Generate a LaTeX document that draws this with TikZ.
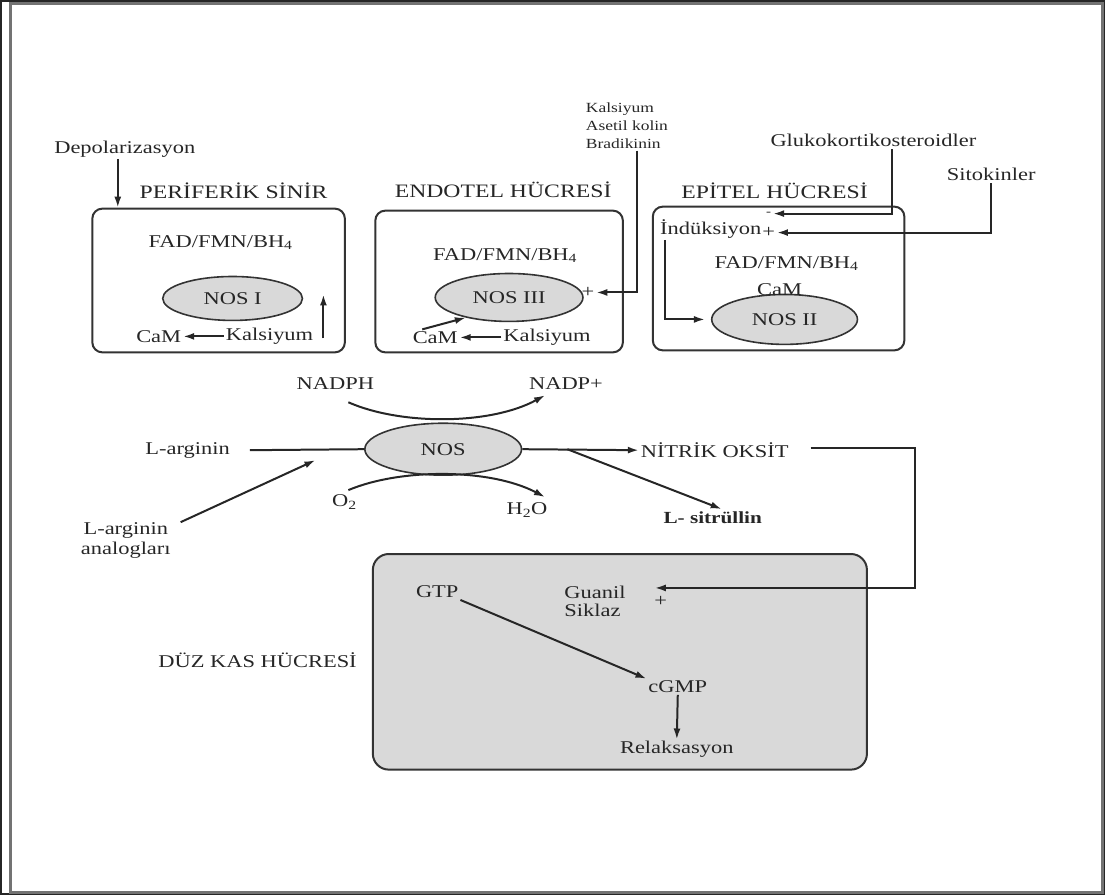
\documentclass[tikz,border=0pt]{standalone}
\usepackage{fontspec}
\setmainfont{Liberation Serif}[FakeStretch=1.25]
\usetikzlibrary{positioning}
\usetikzlibrary{shapes.geometric}
\usetikzlibrary{arrows.meta}

\begin{document}
\begin{tikzpicture}[x=1pt,y=-1pt,
                          cellbox/.style={rectangle, draw=black!80, rounded corners=10pt, line width=2pt},
                          enzymenode/.style={ellipse, draw=black!80, fill=black!15, line width=1.6pt, minimum width=146pt, minimum height=48pt, inner sep=0pt, text=black!85, font=\fontsize{18}{20}\selectfont},
                          textnode/.style={inner sep=1pt, text=black!85, font=\fontsize{18}{20}\selectfont},
                          titlenode/.style={inner sep=1pt, text=black!85, font=\fontsize{19}{21}\selectfont},
                          smallnode/.style={inner sep=1pt, text=black!85, align=left, font=\fontsize{14}{18}\selectfont},
                          every path/.style={line width=2pt, draw=black!85},
                          >={Latex[length=11pt,width=7pt]},
                      ]
                      \useasboundingbox (0,0) rectangle (1105,895);
                      \draw[line width=3pt, draw=black!55] (10,3) rectangle (1103,893);

                      %Nodes
                      \node[cellbox, minimum width=253pt, minimum height=144pt]   (periferik)  at (218,280)  {};
                      \node[titlenode]    (t_periferik)  at (233,190)   {PERİFERİK SİNİR};
                      \node[textnode]     (depol)        at (124,148)   {Depolarizasyon};
                      \node[textnode]     (fad1)         at (220,242)   {FAD/FMN/BH\textsubscript{4}};
                      \node[enzymenode, minimum width=140pt, minimum height=44pt] (nos1) at (232,298) {NOS I};
                      \node[textnode]     (cam1)         at (158,336)   {CaM};
                      \node[textnode]     (kals1)        at (269,336)   {Kalsiyum};
                      \coordinate         (up1a)         at (323,338);
                      \coordinate         (up1b)         at (323,294);

                      \node[cellbox, minimum width=248pt, minimum height=142pt]   (endotel)    at (499,281)  {};
                      \node[titlenode]    (t_endotel)    at (503,189)   {ENDOTEL HÜCRESİ};
                      \node[smallnode, anchor=west] (agonist) at (584,125) {Kalsiyum\\Asetil kolin\\Bradikinin};
                      \node[textnode]     (fad3)         at (505,255)   {FAD/FMN/BH\textsubscript{4}};
                      \node[enzymenode, minimum width=148pt]    (nos3)   at (509,297)   {NOS III};
                      \node[textnode]     (plus3)        at (588,292)   {+};
                      \node[textnode]     (cam3)         at (435,337)   {CaM};
                      \node[textnode]     (kals3)        at (547,337)   {Kalsiyum};

                      \node[cellbox, minimum width=252pt, minimum height=144pt]   (epitel)     at (779,278)  {};
                      \node[titlenode]    (t_epitel)     at (775,190)   {EPİTEL HÜCRESİ};
                      \node[textnode]     (gluko)        at (874,140)   {Glukokortikosteroidler};
                      \node[textnode]     (sito)         at (992,174)   {Sitokinler};
                      \node[textnode]     (indu)         at (711,228)   {İndüksiyon};
                      \node[textnode, font=\fontsize{12}{12}\selectfont] (minus2) at (769,213) {-};
                      \node[textnode]     (plus2)        at (769,232)   {+};
                      \node[textnode]     (fad2)         at (787,263)   {FAD/FMN/BH\textsubscript{4}};
                      \node[enzymenode, minimum height=50pt]   (nos2)   at (785,319)   {NOS II};
                      \node[textnode]     (cam2)         at (780,289)   {CaM};

                      \node[enzymenode, minimum width=157pt, minimum height=52pt] (nos) at (443,449) {NOS};
                      \node[textnode]     (larg)         at (187,450)   {L-arginin};
                      \node[textnode, align=center] (analog) at (125,540) {L-arginin\\analogları};
                      \coordinate         (inhib)        at (315,460);
                      \node[textnode]     (nadph)        at (335,383)   {NADPH};
                      \node[textnode]     (nadpp)        at (566,383)   {NADP+};
                      \coordinate         (nadin)        at (348,402);
                      \coordinate         (nadout)       at (545,395);
                      \node[textnode]     (o2)           at (344,502)   {O\textsubscript{2}};
                      \node[textnode]     (h2o)          at (527,510)   {H\textsubscript{2}O};
                      \coordinate         (o2in)         at (348,490);
                      \coordinate         (h2oout)       at (545,497);
                      \node[textnode]     (no)           at (715,450)   {NİTRİK OKSİT};
                      \node[textnode, font=\bfseries\fontsize{17}{19}\selectfont] (sit) at (713,518) {L- sitrüllin};

                      \node[cellbox, fill=black!15, rounded corners=16pt, minimum width=495pt, minimum height=216pt] (smc) at (620,662) {};
                      \node[textnode]     (smc_t)        at (257,660)   {DÜZ KAS HÜCRESİ};
                      \node[textnode]     (gtp)          at (437,592)   {GTP};
                      \node[textnode, align=left, font=\fontsize{18}{18}\selectfont] (gc) at (595,601) {Guanil\\Siklaz};
                      \node[textnode]     (plusgc)       at (661,602)   {+};
                      \coordinate         (gcin)         at (655,588);
                      \node[textnode]     (cgmp)         at (678,687)   {cGMP};
                      \node[textnode]     (relak)        at (677,750)   {Relaksasyon};

                      %Lines
                      \draw[->] ([xshift=-7pt]depol.south) -- ([xshift=-7pt]depol.south |- periferik.north);
                      \draw[->] (kals1.west) -- (cam1.east);
                      \draw[->] (up1a) -- (up1b);

                      \draw[->] (kals3.west) -- (cam3.east);
                      \draw[->] ([xshift=-13pt]cam3.north) -- (nos3.205);
                      \draw[->] ([xshift=53pt]agonist.south west) |- (plus3.east);

                      \draw[->] ([xshift=19pt]gluko.south) |- (minus2.east);
                      \draw[->] (sito.south) |- (plus2.east);
                      \draw[->] ([xshift=7pt]indu.south west) |- ([xshift=-6pt]nos2.west);

                      \draw ([xshift=18pt]larg.east) -- (nos.west);
                      \draw[->] ([xshift=8pt,yshift=-2pt]analog.north east) -- (inhib);
                      \draw[->] (nadin) .. controls (400,425) and (490,425) .. (nadout);
                      \draw[->] (o2in) .. controls (400,468) and (490,468) .. (h2oout);
                      \draw[->] (nos.east) -- (no.west);
                      \draw[->] ([xshift=45pt]nos.east) -- ([xshift=9pt,yshift=1pt]sit.north);
                      \draw[->] ([xshift=20pt,yshift=2pt]no.east) -- ++(105,0) |- (gcin);

                      \draw[->] (gtp.south east) -- (cgmp.north west);
                      \draw[->] (cgmp.south) -- (relak.north);
                  \end{tikzpicture}
\end{document}
